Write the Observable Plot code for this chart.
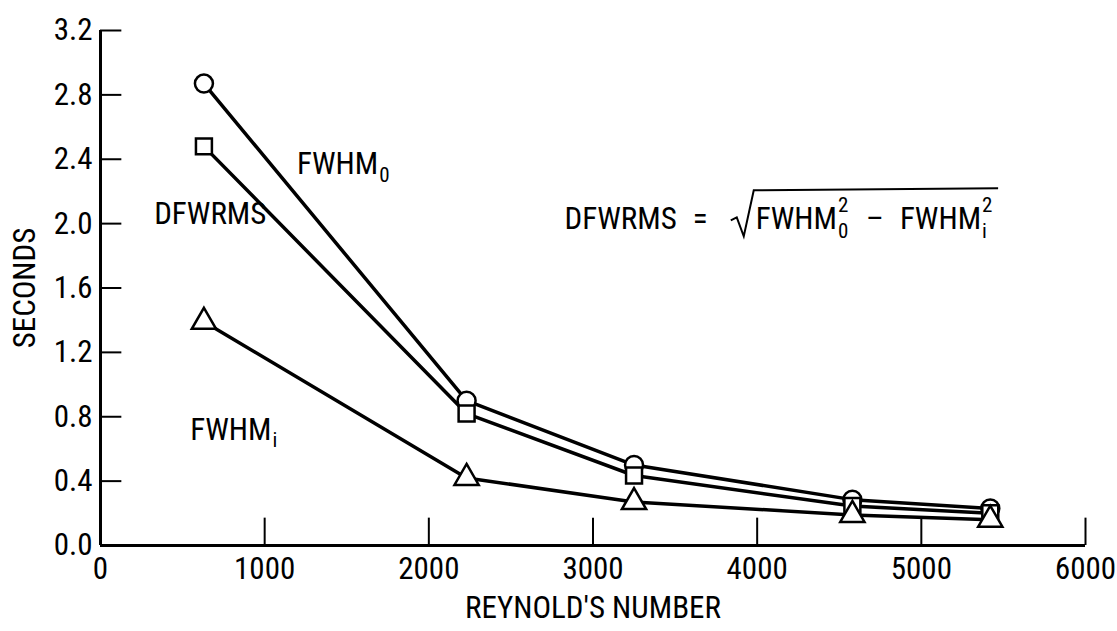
<!DOCTYPE html>
<html><head><meta charset="utf-8">
<script src="https://cdn.jsdelivr.net/npm/d3@7"></script>
<script src="https://cdn.jsdelivr.net/npm/@observablehq/plot@0.6"></script>
<style>body{margin:0;background:#fff}</style>
</head><body><div id="c"></div>
<script>
const reynolds = [630, 2230, 3250, 4580, 5420];
const fwhmO = [2.87, 0.90, 0.50, 0.285, 0.23];
const dfwrms = [2.48, 0.82, 0.435, 0.245, 0.20];
const fwhmI = [1.39, 0.42, 0.27, 0.19, 0.16];
const xTicks = [0, 1000, 2000, 3000, 4000, 5000, 6000];
const yTicks = [0, 0.4, 0.8, 1.2, 1.6, 2.0, 2.4, 2.8, 3.2];

const series = [
  {name: "FWHMo", vals: fwhmO, sym: "circle"},
  {name: "DFWRMS", vals: dfwrms, sym: "square"},
  {name: "FWHMi", vals: fwhmI, sym: "triangle"}
];
const data = series.flatMap(s => s.vals.map((v, i) => ({x: reynolds[i], y: v, s: s.name, sym: s.sym})));
const FONT = '"Liberation Sans Narrow","Roboto Condensed","Liberation Sans",sans-serif';
const FS = "31px", SS = "21px";

const plot = Plot.plot({
  width: 1117, height: 631,
  marginLeft: 100, marginRight: 32, marginTop: 30, marginBottom: 86,
  style: {fontSize: FS, fontFamily: FONT, color: "#000", background: "#fff"},
  x: {domain: [0, 6000], ticks: xTicks, tickFormat: d => String(d), label: "REYNOLD'S NUMBER", labelAnchor: "center", labelArrow: "none", tickSize: 0, tickPadding: 11, labelOffset: 72},
  y: {domain: [0, 3.2], ticks: yTicks, tickFormat: d => d.toFixed(1), label: "SECONDS", labelAnchor: "center", labelArrow: "none", tickSize: 0, tickPadding: 8, labelOffset: 88},
  symbol: {domain: ["circle", "square", "triangle"], range: ["circle", "square", "triangle"]},
  marks: [
    Plot.ruleY([0], {strokeWidth: 3}),
    Plot.ruleX([0], {strokeWidth: 3}),
    Plot.ruleX(xTicks.slice(1), {y1: 0, y2: 0.17, strokeWidth: 2}),
    Plot.ruleY(yTicks.slice(1), {x1: 0, x2: 130, strokeWidth: 2}),
    Plot.line(data, {x: "x", y: "y", z: "s", stroke: "#000", strokeWidth: 3.5}),
    Plot.dot(data, {x: "x", y: "y", symbol: "sym", r: 9, fill: "#fff", stroke: "#000", strokeWidth: 2.5})
  ]
});
document.getElementById("c").appendChild(plot);
d3.select(plot).selectAll("text").style("font-size", FS).style("font-family", FONT);

const svg = d3.select(plot);
const sx = plot.scale("x"), sy = plot.scale("y");
function txt(px, py, str) {
  return svg.append("text").attr("x", px).attr("y", py).attr("dy", "0.35em")
    .attr("text-anchor", "start").style("font-size", FS).style("font-family", FONT).text(str);
}
function sub(px, py, str, dy) {
  return svg.append("text").attr("x", px).attr("y", py + dy).attr("dy", "0.35em")
    .attr("text-anchor", "start").style("font-size", SS).style("font-family", FONT).text(str);
}
function width(t) { return t.node().getBBox().width; }
function label(x, y, base, s) {
  const px = sx.apply(x), py = sy.apply(y);
  const t = txt(px, py, base);
  if (s) sub(px + width(t) + 1, py, s, 11);
  return t;
}
label(1200, 2.37, "FWHM", "0");
label(330, 2.06, "DFWRMS");
label(550, 0.72, "FWHM", "i");
// formula
const fx = sx.apply(2830), gy = sy.apply(2.03);
const t1 = txt(fx, gy, "DFWRMS");
const eqx = fx + width(t1) + 16;
txt(eqx, gy, "=");
const gx = eqx + 38;
const a = txt(gx + 25, gy, "FWHM");
const wf = width(a);
sub(gx + 26 + wf, gy, "2", -14);
sub(gx + 26 + wf, gy, "0", 12);
const mx = gx + 26 + wf + 28;
txt(mx, gy, "–");
txt(mx + 34, gy, "FWHM");
sub(mx + 35 + wf, gy, "2", -14);
sub(mx + 35 + wf, gy, "i", 12);
const endx = mx + 35 + wf + 16;
svg.append("path").attr("d", `M${gx},${gy+2} l6,-3 l7,19 l10,-46 L${endx},${gy-30}`).attr("fill", "none").attr("stroke", "#000").attr("stroke-width", 2);
</script></body></html>
